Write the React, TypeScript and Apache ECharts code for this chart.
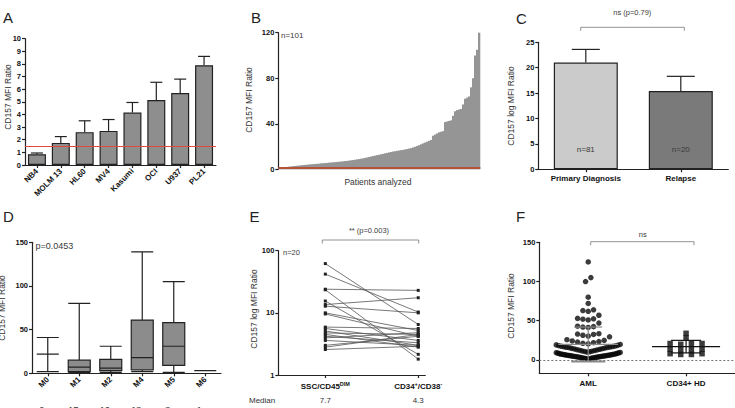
import React, { useEffect, useRef } from "react";
import * as echarts from "echarts";

// ---------- DATA ----------
const cellLines = ["NB4", "MOLM 13", "HL60", "MV4", "Kasumi", "OCI", "U937", "PL21"];
const cellLineRatio = [0.85, 1.75, 2.6, 2.7, 4.15, 5.15, 5.7, 7.9];
const cellLineUpper = [0.95, 2.25, 3.5, 3.6, 4.95, 6.55, 6.8, 8.6];
const positivityThreshold = 1.45;

const patientRatios = [
  1.0, 1.3, 1.6, 1.9, 2.1, 2.3, 2.5, 2.7, 2.9, 3.1,
  3.3, 3.5, 3.7, 3.9, 4.0, 4.2, 4.4, 4.5, 4.7, 4.8,
  5.0, 5.2, 5.3, 5.5, 5.6, 5.8, 6.0, 6.1, 6.3, 6.5,
  6.6, 6.8, 7.0, 7.2, 7.4, 7.6, 7.9, 8.1, 8.4, 8.7,
  9.0, 9.3, 9.6, 10.0, 10.4, 10.8, 11.2, 11.6, 12.0, 12.4,
  12.8, 13.2, 13.6, 14.0, 14.4, 14.8, 15.2, 15.6, 15.9, 16.2,
  16.5, 16.8, 17.1, 17.4, 17.8, 18.2, 18.6, 19.2, 19.8, 20.5,
  21.2, 22.0, 22.8, 23.5, 24.2, 25.0, 25.8, 29.5, 30.5, 31.5,
  32.5, 33.0, 33.5, 41.5, 42.0, 42.5, 43.0, 47.0, 51.0, 52.0,
  52.5, 53.0, 57.0, 62.0, 63.0, 64.0, 72.0, 80.0, 100.0, 105.0,
  125.0,
];

const stageGroups = ["Primary Diagnosis", "Relapse"];
const stageMeans = [21, 15.4];
const stageUpper = [23.6, 18.3];
const stageCounts = ["n=81", "n=20"];

const fabSubtypes = ["M0", "M1", "M2", "M4", "M5", "M6"];
const fabBoxes = [
  [2, 22, 22, 22, 41],
  [1, 2, 7, 15, 80],
  [1, 3, 6, 16, 31],
  [2, 4, 18, 61, 139],
  [1, 9, 31, 58, 105],
  [3, 3, 3, 3, 3],
];
const fabCounts = ["2", "17", "16", "18", "8", "1"];

const popLabels = ["{b|SSC/CD45}{s|DIM}", "{b|CD34}{s|+}{b|/CD38}{s|-}"];
const blastRatios = [62, 42, 24, 23.5, 15.5, 13.6, 12.8, 10, 9.6, 5.9, 5.6, 5.1, 4.75, 4.5, 4.2, 3.95, 3.6, 3.0, 2.8, 2.57];
const stemRatios = [6.5, 10.3, 23, 1.8, 2.15, 17.5, 10, 5.2, 4.2, 5.6, 3.6, 3.0, 4.5, 2.8, 3.3, 4.8, 3.0, 4.2, 4.5, 2.9];
const popMedians = ["7.7", "4.3"];

const cohortLabels = ["AML", "CD34+ HD"];
const hdRatios = [34, 28, 21, 21, 21, 20, 14, 14, 13, 13, 8, 8, 7, 7];
const cohortMean = [20, 17];
const cohortLower = [-2, 9];
const cohortUpper = [42, 25];

// ---------- LAYOUT HELPERS ----------
const FONT = '"Liberation Sans", Arial, Helvetica, sans-serif';
const AX = "#222";

function swarm(values: number[], center: number, bin: number, maxSpan: number, step: number, pxPerUnit: number) {
  const groups = new Map<number, number[]>();
  values.forEach((v) => {
    const k = Math.floor(v / bin);
    if (!groups.has(k)) groups.set(k, []);
    groups.get(k)!.push(v);
  });
  const pts: number[][] = [];
  groups.forEach((list) => {
    list.sort((a, b) => a - b);
    const n = list.length;
    const dx = n > 1 ? Math.min(step, maxSpan / (n - 1)) : 0;
    const slots = Array.from({ length: n }, (_, j) => (j - (n - 1) / 2) * dx);
    slots.sort((a, b) => Math.abs(a) - Math.abs(b) || a - b);
    list.forEach((v, i) => pts.push([center + slots[i] / pxPerUnit, v]));
  });
  return pts;
}

function txt(text: string, x: number, y: number, o: any = {}) {
  const align = o.align || "left";
  const va = o.va || "middle";
  return {
    type: "text",
    x,
    y,
    rotation: o.rot || 0,
    silent: true,
    style: {
      text,
      fill: o.color || "#222",
      font: `${o.weight || "normal"} ${o.size || 8}px ${FONT}`,
      align,
      verticalAlign: va,
      textAlign: align,
      textVerticalAlign: va,
    },
  };
}

function bracket(x1: number, x2: number, y: number, drop: number) {
  return {
    type: "polyline",
    silent: true,
    shape: { points: [[x1, y + drop], [x1, y], [x2, y], [x2, y + drop]] },
    style: { stroke: "#777", lineWidth: 0.8, fill: null },
  };
}

const axisLineStyle = { show: true, onZero: false, lineStyle: { color: AX, width: 1.2 } };
const tickStyle = { show: true, length: 3, lineStyle: { color: AX, width: 1.2 } };
const tickLabel = { color: "#111", fontSize: 7.5, fontWeight: "bold", fontFamily: FONT, margin: 4 };

function upperErr(hw: number) {
  return (params: any, api: any) => {
    const x = api.value(0);
    const base = api.coord([x, api.value(1)]);
    const top = api.coord([x, api.value(2)]);
    const st = { stroke: AX, lineWidth: 1.2 };
    return {
      type: "group",
      children: [
        { type: "line", shape: { x1: base[0], y1: base[1], x2: top[0], y2: top[1] }, style: st },
        { type: "line", shape: { x1: top[0] - hw, y1: top[1], x2: top[0] + hw, y2: top[1] }, style: st },
      ],
    };
  };
}

const G = {
  A: { left: 25, top: 38.7, width: 191, height: 126.3 },
  B: { left: 278.3, top: 32.7, width: 202, height: 136.6 },
  C: { left: 538.3, top: 42.3, width: 190, height: 127 },
  D: { left: 32, top: 242.3, width: 189, height: 131 },
  E: { left: 278.3, top: 250.7, width: 147, height: 124.3 },
  F: { left: 539.3, top: 242.3, width: 202, height: 131 },
};

export default function App() {
  const ref = useRef<HTMLDivElement>(null);
  useEffect(() => {
    document.body.style.margin = "0";
    const chart = echarts.init(ref.current!, undefined, { renderer: "svg" });

    const amlPts = swarm(patientRatios, 0.5, 10, 66, 5.5, 101);
    const hdPts = swarm(hdRatios, 1.5, 5, 60, 11, 101);

    const pairSeries = blastRatios.map((v, i) => ({
      type: "line",
      xAxisIndex: 4,
      yAxisIndex: 4,
      data: [[1, v], [2, stemRatios[i]]],
      symbol: "rect",
      symbolSize: 3,
      showSymbol: true,
      itemStyle: { color: "#222" },
      lineStyle: { color: "#555", width: 0.8 },
      silent: true,
    }));

    const dCenters = fabSubtypes.map((_, i) => G.D.left + (i + 0.5) * (G.D.width / fabSubtypes.length));
    const eX = (v: number) => G.E.left + ((v - 0.494) / (2.076 - 0.494)) * G.E.width;

    const option: any = {
      animation: false,
      backgroundColor: "#fff",
      textStyle: { fontFamily: FONT },
      grid: [G.A, G.B, G.C, G.D, G.E, G.F].map((g) => ({ ...g, containLabel: false })),
      xAxis: [
        {
          gridIndex: 0, type: "category", data: cellLines,
          axisLine: axisLineStyle, axisTick: { ...tickStyle, alignWithLabel: true },
          axisLabel: { ...tickLabel, fontSize: 8, rotate: 45, interval: 0, margin: 5 },
        },
        {
          gridIndex: 1, type: "category", data: patientRatios.map((_, i) => i),
          axisLine: { show: false }, axisTick: { show: false }, axisLabel: { show: false },
        },
        {
          gridIndex: 2, type: "category", data: stageGroups,
          axisLine: axisLineStyle, axisTick: { ...tickStyle, alignWithLabel: true },
          axisLabel: { ...tickLabel, fontSize: 8, margin: 5 },
        },
        {
          gridIndex: 3, type: "category", data: fabSubtypes,
          axisLine: axisLineStyle, axisTick: { ...tickStyle, alignWithLabel: true },
          axisLabel: { ...tickLabel, fontSize: 8, rotate: 45, interval: 0, margin: 5 },
        },
        {
          gridIndex: 4, type: "value", min: 0.494, max: 2.076,
          splitLine: { show: false },
          axisLine: axisLineStyle,
          axisTick: { ...tickStyle, customValues: [1, 2] },
          axisLabel: {
            ...tickLabel, customValues: [1, 2], margin: 6,
            formatter: (v: number) => popLabels[Math.round(v) - 1],
            rich: {
              b: { fontSize: 8, fontWeight: "bold", color: "#111", fontFamily: FONT },
              s: { fontSize: 5.5, fontWeight: "bold", color: "#111", fontFamily: FONT, verticalAlign: "top", padding: [0, 0, 4, 0] },
            },
          },
        },
        {
          gridIndex: 5, type: "value", min: 0, max: 2,
          splitLine: { show: false },
          axisLine: axisLineStyle,
          axisTick: { ...tickStyle, customValues: [0.5, 1.5] },
          axisLabel: {
            ...tickLabel, fontSize: 8, customValues: [0.5, 1.5], margin: 6,
            formatter: (v: number) => cohortLabels[v < 1 ? 0 : 1],
          },
        },
      ],
      yAxis: [
        { gridIndex: 0, type: "value", min: 0, max: 10, interval: 1, splitLine: { show: false }, axisLine: axisLineStyle, axisTick: tickStyle, axisLabel: tickLabel },
        { gridIndex: 1, type: "value", min: 0, max: 120, interval: 40, splitLine: { show: false }, axisLine: axisLineStyle, axisTick: tickStyle, axisLabel: tickLabel },
        { gridIndex: 2, type: "value", min: 0, max: 25, interval: 5, splitLine: { show: false }, axisLine: axisLineStyle, axisTick: tickStyle, axisLabel: tickLabel },
        { gridIndex: 3, type: "value", min: 0, max: 150, interval: 50, splitLine: { show: false }, axisLine: axisLineStyle, axisTick: tickStyle, axisLabel: tickLabel },
        { gridIndex: 4, type: "log", logBase: 10, min: 1, max: 100, splitLine: { show: false }, minorTick: { show: false }, axisLine: axisLineStyle, axisTick: tickStyle, axisLabel: tickLabel },
        {
          gridIndex: 5, type: "value", min: -17, max: 150, splitLine: { show: false },
          axisLine: axisLineStyle,
          axisTick: { ...tickStyle, customValues: [0, 50, 100, 150] },
          axisLabel: { ...tickLabel, customValues: [0, 50, 100, 150] },
        },
      ],
      series: [
        // A
        {
          type: "bar", xAxisIndex: 0, yAxisIndex: 0, data: cellLineRatio, barWidth: 18,
          itemStyle: { color: "#8e8e8e", borderColor: AX, borderWidth: 1.2 },
          markLine: {
            silent: true, symbol: "none", label: { show: false },
            lineStyle: { color: "#e4483a", width: 1, type: "solid" },
            data: [{ yAxis: positivityThreshold }],
          },
        },
        {
          type: "custom", xAxisIndex: 0, yAxisIndex: 0,
          data: cellLineRatio.map((v, i) => [i, v, cellLineUpper[i]]),
          renderItem: upperErr(6),
        },
        // B
        {
          type: "bar", xAxisIndex: 1, yAxisIndex: 1, data: patientRatios, barWidth: 2.6,
          itemStyle: { color: "#959595" },
          markLine: {
            silent: true, symbol: "none", label: { show: false },
            lineStyle: { color: "#b5503c", width: 2, type: "solid" },
            data: [{ yAxis: positivityThreshold }],
          },
        },
        // C
        {
          type: "bar", xAxisIndex: 2, yAxisIndex: 2, barWidth: 64,
          data: stageMeans.map((v, i) => ({ value: v, itemStyle: { color: i === 0 ? "#cbcbcb" : "#7a7a7a" } })),
          itemStyle: { borderColor: AX, borderWidth: 1.2 },
          label: {
            show: true, position: "insideBottom", distance: 16,
            formatter: (p: any) => stageCounts[p.dataIndex],
            fontSize: 8, color: "#3a3a3a", fontFamily: FONT,
          },
        },
        {
          type: "custom", xAxisIndex: 2, yAxisIndex: 2,
          data: stageMeans.map((v, i) => [i, v, stageUpper[i]]),
          renderItem: upperErr(14),
        },
        // D
        {
          type: "boxplot", xAxisIndex: 3, yAxisIndex: 3, data: fabBoxes, boxWidth: [22, 22],
          itemStyle: { color: "#8c8c8c", borderColor: AX, borderWidth: 1.2 },
        },
        // E
        ...pairSeries,
        // F
        {
          type: "scatter", xAxisIndex: 5, yAxisIndex: 5, data: amlPts, symbol: "circle", symbolSize: 5.5,
          itemStyle: { color: "#0a0a0a" },
          markLine: {
            silent: true, symbol: "none", label: { show: false },
            lineStyle: { color: "#777", width: 1, type: [2, 2] },
            data: [{ yAxis: 0 }],
          },
        },
        {
          type: "scatter", xAxisIndex: 5, yAxisIndex: 5, data: hdPts, symbol: "rect", symbolSize: 5.5,
          itemStyle: { color: "#0a0a0a" },
        },
        {
          type: "custom", xAxisIndex: 5, yAxisIndex: 5, z: 5,
          data: cohortMean.map((m, i) => [i + 0.5, m, cohortLower[i], cohortUpper[i]]),
          renderItem: (params: any, api: any) => {
            const i = params.dataIndex;
            const x = api.value(0);
            const m = api.coord([x, api.value(1)]);
            const lo = api.coord([x, api.value(2)]);
            const hi = api.coord([x, api.value(3)]);
            const col = i === 0 ? "#8a8a8a" : "#111";
            const mh = i === 0 ? 30 : 34;
            const ch = i === 0 ? 14 : 15;
            const lh = i === 0 ? 17 : 15;
            const st = { stroke: col, lineWidth: 1.2 };
            return {
              type: "group",
              children: [
                { type: "line", shape: { x1: m[0], y1: lo[1], x2: m[0], y2: hi[1] }, style: st },
                { type: "line", shape: { x1: m[0] - ch, y1: hi[1], x2: m[0] + ch, y2: hi[1] }, style: st },
                { type: "line", shape: { x1: m[0] - lh, y1: lo[1], x2: m[0] + lh, y2: lo[1] }, style: { stroke: col, lineWidth: i === 0 ? 2 : 1.2 } },
                { type: "line", shape: { x1: m[0] - mh, y1: m[1], x2: m[0] + mh, y2: m[1] }, style: st },
              ],
            };
          },
        },
      ],
      graphic: {
        elements: [
          // panel letters
          txt("A", 3, 17, { size: 15 }),
          txt("B", 251, 17.5, { size: 15 }),
          txt("C", 516, 18.5, { size: 15 }),
          txt("D", 3, 216, { size: 15 }),
          txt("E", 249.5, 216.5, { size: 15 }),
          txt("F", 516, 216, { size: 15 }),
          // y axis names
          txt("CD157 MFI Ratio", 8, 97, { rot: Math.PI / 2, align: "center", size: 8.5, color: "#333" }),
          txt("CD157 MFI Ratio", 249, 100, { rot: Math.PI / 2, align: "center", size: 8.5, color: "#333" }),
          txt("CD157 log MFI Ratio", 510.5, 106, { rot: Math.PI / 2, align: "center", size: 8.5, color: "#333" }),
          txt("CD157 MFI Ratio", 1.5, 308, { rot: Math.PI / 2, align: "center", size: 8.5, color: "#333" }),
          txt("CD157 log MFI Ratio", 254, 309, { rot: Math.PI / 2, align: "center", size: 8.5, color: "#333" }),
          txt("CD157 MFI Ratio", 511, 306, { rot: Math.PI / 2, align: "center", size: 8.5, color: "#333" }),
          // B
          txt("n=101", 281, 35.5, { size: 8, color: "#3a3a3a" }),
          txt("Patients analyzed", 378, 182, { align: "center", size: 8.5, color: "#333" }),
          // C
          bracket(580.7, 684.3, 27.3, 3.5),
          txt("ns (p=0.79)", 632.3, 12.5, { align: "center", size: 7.5, color: "#3a3a3a" }),
          // D
          txt("p=0.0453", 35.5, 246, { size: 9, color: "#3a3a3a" }),
          txt("n=", 4, 410, { size: 9, color: "#333" }),
          ...fabCounts.map((c, i) => txt(c, dCenters[i] - 6, 410, { align: "center", size: 9, color: "#333" })),
          // E
          bracket(322.3, 418.7, 240, 3.5),
          txt("** (p=0.003)", 369, 230, { align: "center", size: 7.5, color: "#3a3a3a" }),
          txt("n=20", 283, 252.5, { size: 7.5, color: "#3a3a3a" }),
          txt("Median", 249, 400, { size: 8, color: "#333" }),
          ...popMedians.map((m, i) => txt(m, eX(i + 1), 400, { align: "center", size: 8, color: "#333" })),
          // F
          bracket(590.7, 694, 241.7, 3.5),
          txt("ns", 642.7, 234, { align: "center", size: 7.5, color: "#3a3a3a" }),
        ],
      },
    };
    chart.setOption(option);
    return () => chart.dispose();
  }, []);
  return <div ref={ref} style={{ position: "fixed", left: 0, top: 0, width: 735, height: 408, background: "#fff" }} />;
}
